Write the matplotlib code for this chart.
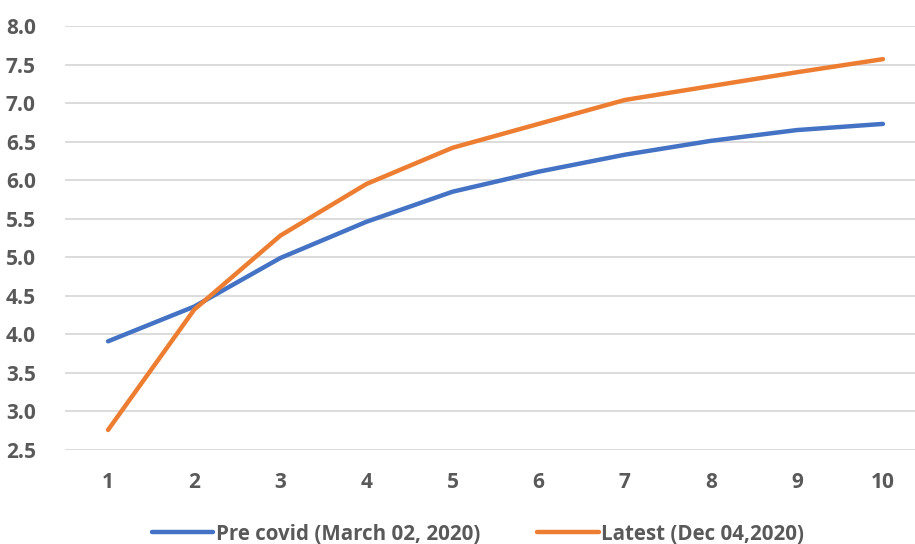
import matplotlib.pyplot as plt

x_labels = [1, 2, 3, 4, 5, 6, 7, 8, 9, 10]
pre_covid = [3.91, 4.36, 4.99, 5.46, 5.85, 6.11, 6.33, 6.51, 6.65, 6.73]
latest = [2.76, 4.32, 5.28, 5.95, 6.42, 6.73, 7.04, 7.22, 7.40, 7.57]
y_ticks = [2.5, 3.0, 3.5, 4.0, 4.5, 5.0, 5.5, 6.0, 6.5, 7.0, 7.5, 8.0]

plt.rcParams['font.family'] = ['Open Sans', 'DejaVu Sans']
plt.rcParams['font.weight'] = 'bold'
text_color = '#595959'

fig = plt.figure(figsize=(9.15, 5.44), dpi=100)
ax = fig.add_axes([65 / 915, 1 - 450 / 544, 861 / 915, 424 / 544])

ax.plot(x_labels, pre_covid, color='#4472C4', lw=3.2, label='Pre covid (March 02, 2020)',
        solid_capstyle='round')
ax.plot(x_labels, latest, color='#ED7D31', lw=3.2, label='Latest (Dec 04,2020)',
        solid_capstyle='round')

ax.set_xlim(0.5, 10.5)
ax.set_ylim(2.5, 8.0)
ax.set_yticks(y_ticks)
ax.set_yticklabels([f'{v:.1f}' for v in y_ticks], fontweight='bold')
ax.set_xticks(x_labels)
ax.set_xticklabels([str(v) for v in x_labels], fontweight='bold')

ax.grid(axis='y', color='#D9D9D9', lw=1.3)
ax.set_axisbelow(True)
for s in ax.spines.values():
    s.set_visible(False)
ax.tick_params(axis='both', length=0, labelsize=15, labelcolor=text_color)
ax.tick_params(axis='y', pad=21)
ax.tick_params(axis='x', pad=16)

leg = fig.legend(loc='lower center', bbox_to_anchor=(478 / 915, -0.035), ncol=2, frameon=False,
                 prop={'size': 14.8, 'weight': 'bold'}, handlelength=3.0, handletextpad=0.1,
                 columnspacing=2.8)
for t in leg.get_texts():
    t.set_color(text_color)

fig.savefig('out.png', dpi=100)
